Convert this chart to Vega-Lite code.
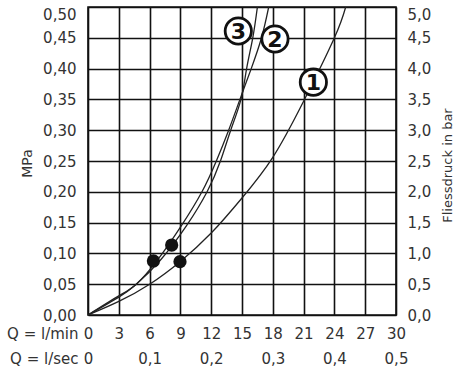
{
  "$schema": "https://vega.github.io/schema/vega-lite/v6.json",
  "width": 308,
  "height": 308,
  "autosize": {"type": "none"},
  "padding": {"left": 88, "top": 7, "right": 67, "bottom": 59},
  "background": "white",
  "config": {
    "view": {"stroke": "#111", "strokeWidth": 1.6},
    "font": "DejaVu Sans"
  },
  "datasets": {
    "curves": [
      {"c": "1", "Q": 0, "p": 0},
      {"c": "1", "Q": 3, "p": 0.022},
      {"c": "1", "Q": 6, "p": 0.05},
      {"c": "1", "Q": 9, "p": 0.087},
      {"c": "1", "Q": 12, "p": 0.133},
      {"c": "1", "Q": 15, "p": 0.19},
      {"c": "1", "Q": 18, "p": 0.256},
      {"c": "1", "Q": 21, "p": 0.347},
      {"c": "1", "Q": 24, "p": 0.45},
      {"c": "1", "Q": 25.1, "p": 0.5},
      {"c": "2", "Q": 0, "p": 0},
      {"c": "2", "Q": 3, "p": 0.031},
      {"c": "2", "Q": 4.7, "p": 0.05},
      {"c": "2", "Q": 6.8, "p": 0.09},
      {"c": "2", "Q": 9.1, "p": 0.145},
      {"c": "2", "Q": 11.1, "p": 0.2},
      {"c": "2", "Q": 12.5, "p": 0.25},
      {"c": "2", "Q": 13.7, "p": 0.3},
      {"c": "2", "Q": 14.8, "p": 0.35},
      {"c": "2", "Q": 15.9, "p": 0.4},
      {"c": "2", "Q": 16.9, "p": 0.45},
      {"c": "2", "Q": 17.6, "p": 0.5},
      {"c": "3", "Q": 0, "p": 0},
      {"c": "3", "Q": 3, "p": 0.029},
      {"c": "3", "Q": 4.7, "p": 0.05},
      {"c": "3", "Q": 7.0, "p": 0.088},
      {"c": "3", "Q": 9.6, "p": 0.145},
      {"c": "3", "Q": 11.6, "p": 0.2},
      {"c": "3", "Q": 12.9, "p": 0.25},
      {"c": "3", "Q": 13.9, "p": 0.3},
      {"c": "3", "Q": 14.9, "p": 0.35},
      {"c": "3", "Q": 15.45, "p": 0.4},
      {"c": "3", "Q": 16.05, "p": 0.45},
      {"c": "3", "Q": 16.5, "p": 0.5}
    ],
    "dots": [
      {"Q": 6.37, "p": 0.0877},
      {"Q": 8.15, "p": 0.1136},
      {"Q": 8.96, "p": 0.0866}
    ],
    "tags": [
      {"n": "1", "Q": 21.95, "p": 0.378},
      {"n": "2", "Q": 18.21, "p": 0.448},
      {"n": "3", "Q": 14.64, "p": 0.461}
    ],
    "bar": [{"bar": 0}, {"bar": 5}]
  },
  "layer": [
    {
      "encoding": {
        "x": {
          "field": "Q", "type": "quantitative",
          "scale": {"domain": [0, 30], "nice": false},
          "axis": {
            "values": [0, 3, 6, 9, 12, 15, 18, 21, 24, 27, 30],
            "grid": true, "gridColor": "#111", "gridWidth": 1.6, "gridOpacity": 1,
            "domain": false, "ticks": false, "tickSize": 0,
            "labelPadding": 11, "labelBaseline": "top", "labelLineHeight": 25,
            "labelFontSize": 15, "labelColor": "#333", "labelFont": "DejaVu Sans",
            "labelFlush": false, "labelOverlap": false, "labelBound": false,
            "labelExpr": "datum.value % 6 == 0 ? [format(datum.value, 'd'), datum.value == 0 ? '0' : replace(format(datum.value / 60, '.1f'), '.', ',')] : [format(datum.value, 'd'), '']",
            "title": ["Q = l/min", "Q = l/sec"],
            "titleFontSize": 15, "titleFontWeight": "normal", "titleColor": "#333", "titleFont": "DejaVu Sans",
            "titleLineHeight": 25, "titleAlign": "right", "titleBaseline": "top",
            "titleX": -10, "titleY": 11, "titleAnchor": null
          }
        },
        "y": {
          "field": "p", "type": "quantitative",
          "scale": {"domain": [0, 0.5], "nice": false},
          "axis": {
            "values": [0, 0.05, 0.1, 0.15, 0.2, 0.25, 0.3, 0.35, 0.4, 0.45, 0.5],
            "grid": true, "gridColor": "#111", "gridWidth": 1.6, "gridOpacity": 1,
            "domain": false, "ticks": false, "tickSize": 0,
            "labelPadding": 12, "labelFontSize": 15, "labelColor": "#333", "labelFont": "DejaVu Sans",
            "labelFlush": false, "labelOverlap": false, "labelBound": false,
            "labelBaseline": {"condition": {"test": "datum.value >= 0.5", "value": "top"}, "value": "middle"},
            "labelExpr": "replace(format(datum.value, '.2f'), '.', ',')",
            "title": "MPa", "titleFontSize": 14, "titleFontWeight": "normal", "titleColor": "#333",
            "titleAngle": 270, "titleX": -61, "titleY": 156, "titleAlign": "center", "titleBaseline": "middle", "titleAnchor": null
          }
        }
      },
      "layer": [
        {
          "data": {"name": "curves"},
          "mark": {"type": "line", "interpolate": "natural", "color": "#222", "strokeWidth": 1.3, "clip": true},
          "encoding": {"detail": {"field": "c"}}
        },
        {
          "data": {"name": "dots"},
          "mark": {"type": "point", "shape": "circle", "filled": true, "color": "#111", "size": 175, "opacity": 1}
        },
        {
          "data": {"name": "tags"},
          "mark": {"type": "point", "shape": "circle", "filled": true, "fill": "white", "stroke": "#111", "strokeWidth": 2.8, "size": 690, "opacity": 1, "fillOpacity": 1}
        },
        {
          "data": {"name": "tags"},
          "mark": {"type": "text", "fontSize": 22, "fontWeight": "bold", "font": "DejaVu Sans", "color": "#111", "align": "center", "baseline": "middle", "dy": 1},
          "encoding": {"text": {"field": "n"}}
        }
      ]
    },
    {
      "data": {"name": "bar"},
      "mark": {"type": "point", "opacity": 0},
      "encoding": {
        "y": {
          "field": "bar", "type": "quantitative",
          "scale": {"domain": [0, 5], "nice": false},
          "axis": {
            "orient": "right",
            "values": [0, 0.5, 1, 1.5, 2, 2.5, 3, 3.5, 4, 4.5, 5],
            "grid": false, "domain": false, "ticks": false, "tickSize": 0,
            "labelPadding": 11, "labelFontSize": 15, "labelColor": "#333", "labelFont": "DejaVu Sans",
            "labelFlush": false, "labelOverlap": false, "labelBound": false,
            "labelBaseline": {"condition": {"test": "datum.value >= 5", "value": "top"}, "value": "middle"},
            "labelExpr": "replace(format(datum.value, '.1f'), '.', ',')",
            "title": "Fliessdruck in bar", "titleFontSize": 13, "titleFontWeight": "normal", "titleColor": "#333",
            "titleAngle": 270, "titleX": 51, "titleY": 158, "titleAlign": "center", "titleBaseline": "middle", "titleAnchor": null
          }
        }
      }
    }
  ],
  "resolve": {"scale": {"y": "independent"}, "axis": {"y": "independent"}}
}
